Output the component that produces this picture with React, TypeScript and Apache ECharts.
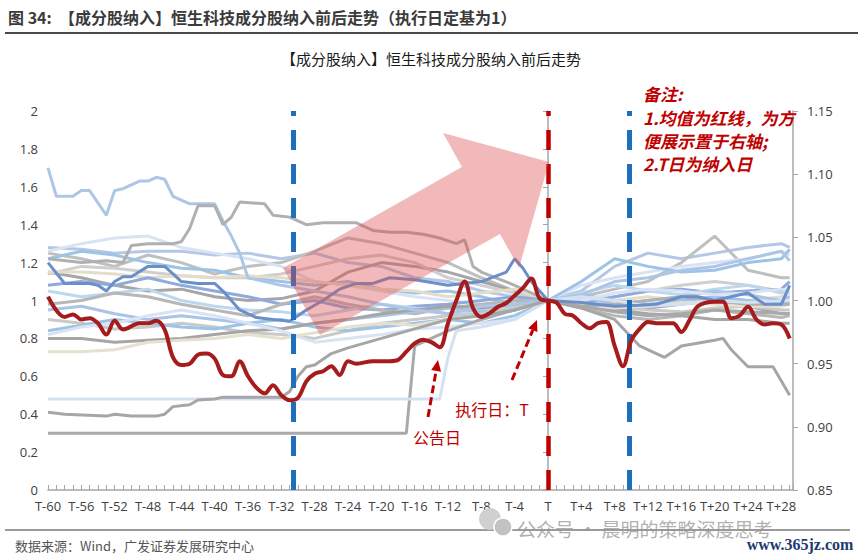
import React, { useEffect, useRef } from "react";
import * as echarts from "echarts";

// ---- x positions (trading days relative to the execution day T) ----
const GRID_T = [-60, -56, -52, -48, -44, -40, -36, -32, -28, -24, -20, -16, -12, -8, -4, 0, 4, 8, 12, 16, 20, 24, 28, 29];

// ---- constituent series (left axis), sampled at GRID_T ----
const LINE_01 = [1.28, 1.27, 1.25, 1.26, 1.26, 1.24, 1.25, 1.22, 1.25, 1.2, 1.18, 1.12, 1.1, 1.05, 1.02, 1.0, 1.05, 1.18, 1.25, 1.22, 1.25, 1.28, 1.3, 1.28];
const LINE_02 = [1.25, 1.22, 1.18, 1.24, 1.2, 1.14, 1.18, 1.2, 1.26, 1.33, 1.3, 1.25, 1.2, 1.12, 1.05, 1.0, 1.02, 1.06, 1.1, 1.2, 1.34, 1.16, 1.12, 1.12];
const LINE_03 = [1.26, 1.3, 1.33, 1.34, 1.28, 1.25, 1.22, 1.18, 1.1, 1.08, 1.05, 1.02, 1.0, 0.98, 0.97, 1.0, 1.08, 1.12, 1.15, 1.18, 1.2, 1.22, 1.26, 1.24];
const LINE_04 = [1.22, 1.26, 1.24, 1.2, 1.17, 1.16, 1.12, 1.1, 1.08, 1.1, 1.06, 1.04, 1.05, 1.02, 0.98, 1.0, 1.1, 1.22, 1.18, 1.15, 1.16, 1.2, 1.22, 1.27];
const LINE_05 = [1.15, 1.12, 1.08, 1.05, 1.06, 1.02, 1.0, 1.01, 1.05, 1.15, 1.2, 1.18, 1.15, 1.1, 1.05, 1.0, 0.97, 0.95, 0.96, 0.98, 1.0, 0.97, 0.93, 0.93];
const LINE_06 = [1.14, 1.18, 1.17, 1.15, 1.13, 1.12, 1.12, 1.14, 1.18, 1.22, 1.24, 1.2, 1.12, 1.08, 1.04, 1.0, 1.0, 1.02, 1.05, 1.08, 1.1, 1.08, 1.05, 1.05];
const LINE_07 = [1.15, 1.15, 1.14, 1.12, 1.13, 1.12, 1.13, 1.12, 1.1, 1.08, 1.06, 1.05, 1.02, 1.04, 1.06, 1.0, 0.98, 1.0, 1.02, 1.0, 1.01, 1.0, 1.02, 1.02];
const LINE_08 = [1.08, 1.1, 1.08, 1.12, 1.08, 1.05, 1.02, 0.98, 1.0, 0.96, 0.95, 0.97, 0.98, 1.0, 1.02, 1.0, 0.98, 1.02, 1.05, 1.06, 1.04, 1.05, 1.06, 1.1];
const LINE_09 = [1.05, 1.02, 1.04, 1.06, 1.0, 0.97, 0.95, 0.94, 0.92, 0.95, 0.98, 0.96, 0.93, 0.95, 0.97, 1.0, 1.04, 1.08, 1.05, 1.03, 1.06, 1.08, 1.04, 1.04];
const LINE_10 = [0.98, 1.0, 1.04, 1.02, 0.98, 0.95, 0.92, 0.98, 1.02, 0.98, 0.95, 0.93, 0.96, 0.98, 1.0, 1.0, 0.96, 0.92, 0.9, 0.92, 0.95, 0.93, 0.91, 0.92];
const LINE_11 = [0.95, 0.97, 0.93, 0.9, 0.92, 0.9, 0.88, 0.85, 0.88, 0.9, 0.92, 0.94, 0.96, 0.94, 0.95, 1.0, 1.02, 0.98, 1.0, 1.02, 1.05, 1.03, 1.0, 1.02];
const LINE_12 = [0.9, 0.88, 0.85, 0.86, 0.88, 0.86, 0.83, 0.82, 0.8, 0.84, 0.88, 0.9, 0.92, 0.93, 0.96, 1.0, 0.99, 0.97, 0.95, 0.94, 0.96, 0.97, 0.95, 0.95];
const LINE_13 = [0.84, 0.87, 0.9, 0.88, 0.86, 0.85, 0.88, 0.9, 0.86, 0.84, 0.86, 0.88, 0.9, 0.88, 0.92, 1.0, 1.03, 1.0, 0.98, 1.0, 1.02, 1.0, 0.98, 0.99];
const LINE_14 = [0.8, 0.8, 0.78, 0.79, 0.8, 0.82, 0.84, 0.85, 0.88, 0.9, 0.93, 0.95, 0.97, 0.96, 0.98, 1.0, 0.97, 0.95, 0.93, 0.92, 0.9, 0.9, 0.88, 0.88];
const LINE_15 = [0.82, 0.86, 0.88, 0.92, 0.95, 0.92, 0.88, 0.84, 0.78, 0.8, 0.82, 0.85, 0.86, 0.88, 0.9, 1.0, 1.0, 1.04, 1.06, 1.05, 1.03, 1.04, 1.06, 1.05];
const LINE_16 = [0.73, 0.73, 0.74, 0.78, 0.79, 0.8, 0.82, 0.8, 0.83, 0.86, 0.88, 0.87, 0.9, 0.92, 0.95, 1.0, 0.98, 0.96, 0.97, 0.99, 0.98, 0.97, 0.97, 0.98];

// ---- constituent series with their own sampled days ----
const TOP_T = [-60, -59, -57, -56, -55, -53, -52, -51, -49, -48, -47, -46, -45, -43, -40, -39, -38, -37, -36, -34, -32, -28, -24, -20, -16, -12, -8, -4, 0, 4, 8, 12, 16, 20, 24, 28, 29];
const TOP_V = [1.7, 1.55, 1.55, 1.58, 1.58, 1.45, 1.58, 1.59, 1.63, 1.63, 1.65, 1.64, 1.55, 1.51, 1.51, 1.42, 1.34, 1.25, 1.12, 1.1, 1.08, 1.05, 1.02, 0.98, 0.95, 0.93, 0.97, 0.98, 1.0, 1.03, 1.1, 1.12, 1.16, 1.18, 1.22, 1.26, 1.21];

const RISE_T = [-60, -56, -53, -51, -50, -48, -45, -44, -43, -42, -40, -39, -38, -37, -34, -33, -31, -29, -27, -23, -21, -19, -17, -15, -13, -11, -10, -9, -8, -4, 0, 4, 8, 12, 16, 20, 24, 29];
const RISE_V = [1.22, 1.2, 1.21, 1.2, 1.29, 1.3, 1.3, 1.31, 1.38, 1.5, 1.5, 1.4, 1.44, 1.52, 1.51, 1.45, 1.44, 1.4, 1.41, 1.41, 1.37, 1.36, 1.36, 1.35, 1.33, 1.3, 1.32, 1.18, 1.15, 1.08, 1.0, 0.97, 0.98, 1.0, 1.02, 1.0, 0.98, 0.98];

const FLAT30_T = [-60, -17, -16, -14, -12, -8, -4, 0, 4, 8, 12, 16, 20, 24, 29];
const FLAT30_V = [0.3, 0.3, 0.76, 0.8, 0.84, 0.9, 0.95, 1.0, 0.97, 0.94, 0.92, 0.93, 0.95, 0.94, 0.93];

const FLAT48_T = [-60, -13, -12, -11, -8, -4, 0, 4, 8, 12, 16, 20, 24, 29];
const FLAT48_V = [0.48, 0.48, 0.7, 0.84, 0.86, 0.9, 1.0, 1.02, 1.0, 0.97, 0.98, 1.0, 0.99, 1.0];

const LOW_T = [-60, -58, -53, -52, -50, -47, -46, -45, -43, -42, -40, -39, -32, -31, -30, -29, -28, -26, -24, -20, -16, -12, -8, -4, 0, 4, 8, 11, 13, 14, 16, 20, 21, 22, 24, 27, 29];
const LOW_V = [0.41, 0.4, 0.39, 0.4, 0.39, 0.39, 0.4, 0.44, 0.45, 0.475, 0.48, 0.49, 0.49, 0.52, 0.6, 0.65, 0.66, 0.72, 0.75, 0.8, 0.85, 0.9, 0.92, 0.95, 1.0, 0.96, 0.9, 0.76, 0.72, 0.7, 0.76, 0.79, 0.8, 0.74, 0.65, 0.65, 0.5];

const BLUE_T = [-60, -58, -55, -54, -53, -52, -51, -50, -48, -46, -45, -44, -42, -40, -39, -37, -35, -33, -31, -29, -27, -25, -23, -21, -19, -16, -12, -8, -5, -4, -3, -2, 0, 4, 8, 11, 13, 16, 18, 20, 23, 24, 26, 28, 29];
const BLUE_V = [1.2, 1.09, 1.09, 1.08, 1.05, 1.1, 1.125, 1.125, 1.18, 1.18, 1.14, 1.1, 1.09, 1.09, 1.05, 0.95, 0.91, 0.9, 0.89, 0.95, 1.0, 1.06, 1.09, 1.09, 1.12, 1.11, 1.08, 1.1, 1.15, 1.22, 1.17, 1.1, 1.0, 0.99, 0.97, 0.975, 0.98, 1.02, 1.02, 1.0, 1.03, 1.04, 0.98, 0.98, 1.08];

// ---- mean of constituents (right axis, red line) ----
const MEAN_T = [-60, -58, -57, -56, -55, -54, -53, -52, -51, -49, -48, -47, -46, -45, -44, -43, -42, -41, -40, -39, -38, -37, -36, -35, -34, -33, -32, -31, -30, -29, -28, -27, -26, -25, -24, -23, -21, -19, -18, -17, -16, -15, -14, -13, -12, -11, -10, -9, -8, -7, -6, -5, -4, -3, -2, -1, 0, 1, 2, 3, 4, 5, 6, 7, 8, 9, 10, 11, 12, 13, 15, 16, 17, 18, 20, 21, 22, 23, 24, 25, 26, 27, 28, 29];
const MEAN_V = [1.003, 0.987, 0.989, 0.985, 0.986, 0.982, 0.973, 0.984, 0.977, 0.982, 0.982, 0.984, 0.977, 0.955, 0.949, 0.95, 0.957, 0.958, 0.954, 0.941, 0.94, 0.952, 0.94, 0.931, 0.9265, 0.933, 0.925, 0.921, 0.923, 0.936, 0.942, 0.944, 0.948, 0.941, 0.952, 0.95, 0.952, 0.952, 0.953, 0.9595, 0.966, 0.969, 0.967, 0.963, 0.982, 1.0, 1.015, 0.994, 0.987, 0.99, 0.995, 0.998, 1.004, 1.01, 1.0175, 1.0015, 1.0, 0.9985, 0.9895, 0.988, 0.982, 0.978, 0.982, 0.983, 0.964, 0.948, 0.9685, 0.9775, 0.983, 0.982, 0.982, 0.975, 0.9846, 0.9955, 0.999, 0.999, 0.986, 0.988, 0.995, 0.985, 0.981, 0.982, 0.981, 0.97];

// ---- annotation days ----
const BLUE_MARK_1 = -30.6;
const EXEC_DAY = 0;
const BLUE_MARK_2 = 9.7;

// ---- axis ranges ----
const X_MIN = -60;
const X_MAX = 29.4;
const LEFT_MIN = 0;
const LEFT_MAX = 2;
const LEFT_STEP = 0.2;
const RIGHT_MIN = 0.85;
const RIGHT_MAX = 1.15;
const RIGHT_STEP = 0.05;

const GRID_LINES = [LINE_01, LINE_02, LINE_03, LINE_04, LINE_05, LINE_06, LINE_07, LINE_08, LINE_09, LINE_10, LINE_11, LINE_12, LINE_13, LINE_14, LINE_15, LINE_16];
const GRID_COLORS = ["#b4c7e7", "#bfbfbf", "#dae3f3", "#9dc3e6", "#a6a6a6", "#d0cece", "#e3ddca", "#8faadc", "#bdd7ee", "#b7b7b7", "#a9c4e6", "#c9c9c9", "#9dc3e6", "#a6a6a6", "#dae3f3", "#e6e0cf"];

const OWN_LINES: [number[], number[], string][] = [
  [TOP_T, TOP_V, "#adc6e5"],
  [RISE_T, RISE_V, "#b0b0b0"],
  [FLAT30_T, FLAT30_V, "#a9a9a9"],
  [FLAT48_T, FLAT48_V, "#d3e1f3"],
  [LOW_T, LOW_V, "#a6a6a6"],
  [BLUE_T, BLUE_V, "#6b8fc9"],
];

const pairs = (ts: number[], vs: number[]) => ts.map((t, i) => [t, vs[i]]);

const CJK = '"Noto Sans CJK SC", "Noto Sans", sans-serif';
const LATIN = '"Open Sans", "Noto Sans", "Noto Sans CJK SC", sans-serif';

function buildOption(): any {
  const series: any[] = [];
  GRID_LINES.forEach((vals, i) => {
    series.push({
      type: "line",
      name: "成分股" + (i + 1),
      yAxisIndex: 0,
      data: pairs(GRID_T, vals),
      showSymbol: false,
      symbol: "none",
      silent: true,
      lineStyle: { width: 3, color: GRID_COLORS[i] },
      z: 2,
    });
  });
  OWN_LINES.forEach(([ts, vs, c], i) => {
    series.push({
      type: "line",
      name: "成分股" + (GRID_LINES.length + i + 1),
      yAxisIndex: 0,
      data: pairs(ts, vs),
      showSymbol: false,
      symbol: "none",
      silent: true,
      lineStyle: { width: 3, color: c },
      z: 3,
    });
  });
  series.push({
    type: "line",
    name: "均值",
    yAxisIndex: 1,
    data: pairs(MEAN_T, MEAN_V),
    showSymbol: false,
    symbol: "none",
    smooth: 0.35,
    silent: true,
    lineStyle: { width: 4, color: "#a61c1c" },
    z: 5,
    markLine: {
      silent: true,
      symbol: ["none", "none"],
      label: { show: false },
      lineStyle: { type: [20, 14], width: 4.5 },
      data: [
        { xAxis: BLUE_MARK_1, lineStyle: { color: "#1f6fbf", type: [20, 14], width: 5 } },
        { xAxis: EXEC_DAY, lineStyle: { color: "#c00000", type: [20, 14], width: 4.5 } },
        { xAxis: BLUE_MARK_2, lineStyle: { color: "#1f6fbf", type: [20, 14], width: 5 } },
      ],
    },
  });

  const txt = (text: string, x: number, y: number, font: string, fill: string, align = "left", z = 50) => ({
    type: "text",
    x,
    y,
    z,
    silent: true,
    style: {
      text,
      font,
      fill,
      align,
      verticalAlign: "middle",
      textAlign: align,
      textVerticalAlign: "middle",
    },
  });

  const arrow = (x1: number, y1: number, x2: number, y2: number) => {
    const dx = x2 - x1;
    const dy = y2 - y1;
    const len = Math.hypot(dx, dy);
    const ux = dx / len;
    const uy = dy / len;
    const bx = x2 - 11 * ux;
    const by = y2 - 11 * uy;
    const px = -uy;
    const py = ux;
    return [
      {
        type: "line",
        z: 60,
        silent: true,
        shape: { x1, y1, x2: bx, y2: by },
        style: { stroke: "#c00000", lineWidth: 3, lineDash: [8, 4] },
      },
      {
        type: "polygon",
        z: 60,
        silent: true,
        shape: { points: [[x2, y2], [bx + 5 * px, by + 5 * py], [bx - 5 * px, by - 5 * py]] },
        style: { fill: "#c00000" },
      },
    ];
  };

  const graphics: any[] = [
    txt("图 34:  【成分股纳入】恒生科技成分股纳入前后走势（执行日定基为1）", 8, 17, `bold 16px ${CJK}`, "#3a3a3a"),
    { type: "line", silent: true, shape: { x1: 5, y1: 33, x2: 858, y2: 33 }, style: { stroke: "#4a4a4a", lineWidth: 2 } },
    txt("【成分股纳入】恒生科技成分股纳入前后走势", 431, 58, `15px ${CJK}`, "#1a1a1a", "center"),
    {
      type: "polygon",
      z: 40,
      silent: true,
      shape: { points: [[283, 268], [462, 167], [443, 133], [549, 162], [519, 268], [500, 234], [320, 335]] },
      style: { fill: "rgba(220, 80, 80, 0.4)" },
    },
    ...arrow(428, 417, 438, 360),
    ...arrow(512, 380, 537, 320),
    txt("公告日", 437, 437, `16px ${CJK}`, "#c00000", "center"),
    txt("执行日：T", 492, 409, `16px ${CJK}`, "#c00000", "center"),
    txt("备注:", 643, 93, `italic bold 17px ${CJK}`, "#c00000"),
    txt("1.均值为红线，为方", 643, 117, `italic bold 17px ${CJK}`, "#c00000"),
    txt("便展示置于右轴;", 643, 140, `italic bold 17px ${CJK}`, "#c00000"),
    txt("2.T日为纳入日", 643, 163, `italic bold 17px ${CJK}`, "#c00000"),
    { type: "line", silent: true, shape: { x1: 5, y1: 530, x2: 850, y2: 530 }, style: { stroke: "#7a7a7a", lineWidth: 1.5 } },
    txt("数据来源：Wind，广发证券发展研究中心", 15, 545, `13px ${CJK}`, "#555555"),
    { type: "circle", z: 45, silent: true, shape: { cx: 490, cy: 519, r: 11 }, style: { fill: "#d0d0d0" } },
    { type: "circle", z: 46, silent: true, shape: { cx: 503, cy: 527, r: 9 }, style: { fill: "#c2c2c2", stroke: "#ffffff", lineWidth: 1.5 } },
    txt("公众号 · 晨明的策略深度思考", 517, 528, `19px ${CJK}`, "rgba(150,150,150,0.75)", "left", 45),
    txt("www.365jz.com", 800, 544, `bold 16px "Liberation Serif", "DejaVu Serif", serif`, "#1e3a70", "center", 45),
  ];

  return {
    animation: false,
    backgroundColor: "#ffffff",
    grid: { left: 48, right: 71, top: 111, bottom: 67, containLabel: false, outerBoundsMode: "none" },
    xAxis: {
      type: "value",
      min: X_MIN,
      max: X_MAX,
      interval: 1,
      splitLine: { show: false },
      axisLine: { lineStyle: { color: "#a6a6a6", width: 1.5 } },
      axisTick: { show: true, inside: true, length: 5, lineStyle: { color: "#a6a6a6" } },
      axisLabel: {
        margin: 9,
        fontSize: 13,
        color: "#404040",
        fontFamily: LATIN,
        showMinLabel: true,
        showMaxLabel: true,
        formatter: (v: number) => {
          const r = Math.round(v);
          if (Math.abs(v - r) > 1e-6 || r % 4 !== 0) return "";
          return r === 0 ? "T" : r < 0 ? "T" + r : "T+" + r;
        },
      },
    },
    yAxis: [
      {
        type: "value",
        min: LEFT_MIN,
        max: LEFT_MAX,
        interval: LEFT_STEP,
        position: "left",
        splitLine: { show: false },
        axisLine: { show: true, lineStyle: { color: "#a6a6a6", width: 1.5 } },
        axisTick: { show: true, length: 5, lineStyle: { color: "#a6a6a6" } },
        axisLabel: {
          margin: 10,
          fontSize: 13,
          color: "#404040",
          fontFamily: LATIN,
          formatter: (v: number) => String(Math.round(v * 10) / 10),
        },
      },
      {
        type: "value",
        min: RIGHT_MIN,
        max: RIGHT_MAX,
        interval: RIGHT_STEP,
        position: "right",
        splitLine: { show: false },
        axisLine: { show: true, lineStyle: { color: "#a6a6a6", width: 1.5 } },
        axisTick: { show: true, length: 5, lineStyle: { color: "#a6a6a6" } },
        axisLabel: {
          margin: 14,
          fontSize: 13,
          color: "#404040",
          fontFamily: LATIN,
          formatter: (v: number) => v.toFixed(2),
        },
      },
    ],
    series,
    graphic: { elements: graphics },
  };
}

export default function App() {
  const ref = useRef<HTMLDivElement>(null);
  useEffect(() => {
    document.body.style.margin = "0";
    if (!ref.current) return;
    const chart = echarts.init(ref.current, undefined, { renderer: "svg" });
    chart.setOption(buildOption());
    return () => chart.dispose();
  }, []);
  return <div ref={ref} style={{ width: 864, height: 557, background: "#ffffff" }} />;
}
